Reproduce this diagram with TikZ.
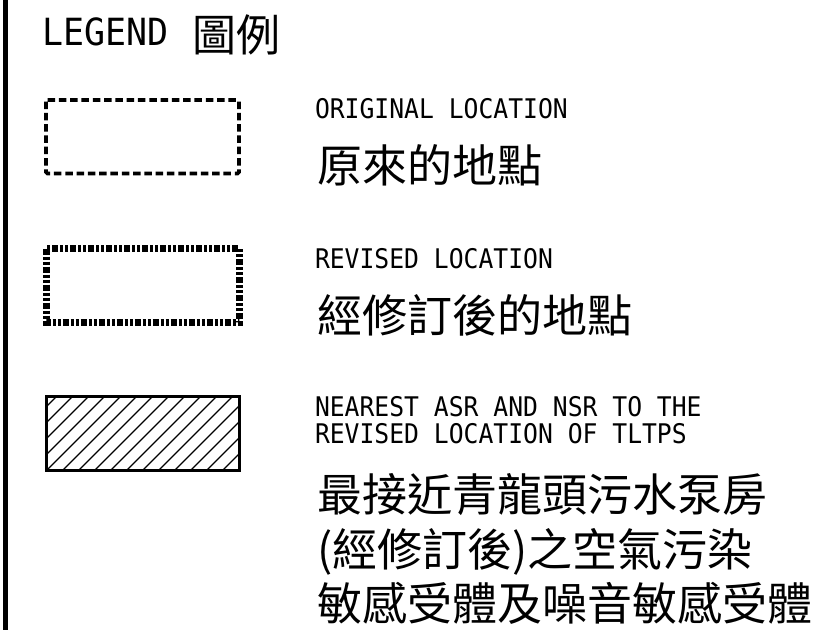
\documentclass[tikz,border=0pt]{standalone}
\usepackage{fontspec}
\setmainfont{DejaVu Sans}
\newfontfamily\cadfont{DejaVu Sans Mono}
\newfontfamily\cjk{Noto Sans CJK TC}
\newcommand{\cadtxt}[1]{\scalebox{0.95}[1.04]{#1}}
\begin{document}
\begin{tikzpicture}[x=1pt,y=-1pt,
  lbl/.style={anchor=base west,inner sep=0pt,outer sep=0pt,text=black},
  cadtext/.style={lbl,font=\cadfont\fontsize{26}{24}\selectfont,align=left},
  cjktext/.style={lbl,font=\cjk\fontsize{45}{54}\selectfont},
  origbox/.style={draw=black,line width=3.8pt,dash pattern=on 7.5pt off 3.8pt,rounded corners=1.5pt},
  revbox/.style={draw=black,line width=7pt,dash pattern=on 6pt off 2pt on 3pt off 2pt on 3pt off 2pt},
  hatchbox/.style={draw=black,line width=2.6pt},
  hatch/.style={draw=black,line width=1.3pt},
  border/.style={draw=black,line width=5.5pt}]
\useasboundingbox (0,0) rectangle (828,630);
% left border
\coordinate (btop) at (5.3,0);
\coordinate (bbot) at (5.3,630);
\draw[border] (btop) -- (bbot);
% title
\node[lbl,font=\cadfont\fontsize{36}{36}\selectfont] (legend) at (42,45) {\scalebox{0.97}[1.04]{LEGEND}};
\node[lbl,font=\cjk\fontsize{44}{44}\selectfont] (legendzh) at (192,51) {圖例};
% box 1: original location
\coordinate (b1a) at (46,100);
\coordinate (b1b) at (239,173.5);
\draw[origbox] (b1a) rectangle (b1b);
\node[cadtext] (orig) at (315,118) {\cadtxt{ORIGINAL LOCATION}};
\node[cjktext] (origzh) at (317,182) {原來的地點};
% box 2: revised location
\coordinate (b2a) at (46,248.5);
\coordinate (b2b) at (239.5,322);
\draw[revbox] (b2a) rectangle (b2b);
\node[cadtext] (rev) at (315,268) {\cadtxt{REVISED LOCATION}};
\node[cjktext] (revzh) at (317,332) {經修訂後的地點};
% box 3: hatched
\coordinate (b3a) at (46.5,396.5);
\coordinate (b3b) at (239.5,470.5);
\begin{scope}
  \clip (b3a) rectangle (b3b);
  \foreach \i in {0,...,18}{
    \draw[hatch] (46.5+\i*16-80,470.5) -- ++(80,-80);
  }
\end{scope}
\draw[hatchbox] (b3a) rectangle (b3b);
\node[cadtext] (near) at (315,416) {\cadtxt{\begin{tabular}[t]{@{}l@{}}NEAREST ASR AND NSR TO THE\\REVISED LOCATION OF TLTPS\end{tabular}}};
\node[cjktext] (nearzh1) at (317,511) {最接近青龍頭污水泵房};
\node[cjktext] (nearzh2) at (317,566) {(經修訂後)之空氣污染};
\node[cjktext] (nearzh3) at (317,620) {敏感受體及噪音敏感受體};
\end{tikzpicture}
\end{document}
